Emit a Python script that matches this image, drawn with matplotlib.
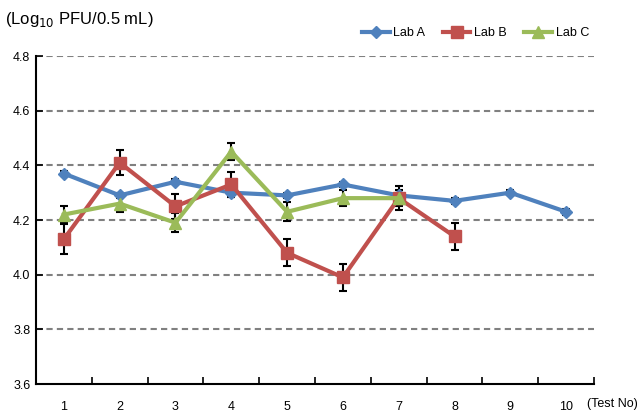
import numpy as np
import matplotlib.pyplot as plt
from matplotlib.ticker import FixedLocator

plt.rcParams['font.family'] = ['Liberation Sans', 'DejaVu Sans']

tests = [1, 2, 3, 4, 5, 6, 7, 8, 9, 10]

lab_a = [4.37, 4.29, 4.34, 4.30, 4.29, 4.33, 4.29, 4.27, 4.30, 4.23]
lab_a_err = [0.01, 0.01, 0.01, 0.015, 0.01, 0.01, 0.01, 0.01, 0.01, 0.01]

lab_b = [4.13, 4.41, 4.25, 4.33, 4.08, 3.99, 4.28, 4.14]
lab_b_err = [0.055, 0.045, 0.045, 0.045, 0.05, 0.05, 0.045, 0.05]

lab_c = [4.22, 4.26, 4.19, 4.45, 4.23, 4.28, 4.28]
lab_c_err = [0.03, 0.03, 0.035, 0.03, 0.035, 0.03, 0.03]

yticks = [3.6, 3.8, 4.0, 4.2, 4.4, 4.6, 4.8]

fig = plt.figure(figsize=(6.39, 4.13), dpi=100)
ax = fig.add_axes([0.0563, 0.0702, 0.8733, 0.7942])

for y in yticks[1:]:
    ax.axhline(y, color='#808080', lw=1.5, ls=(0, (3, 2)), zorder=1)

series = [
    ('Lab A', lab_a, lab_a_err, '#4F81BD', 'D', 6),
    ('Lab B', lab_b, lab_b_err, '#C0504D', 's', 8),
    ('Lab C', lab_c, lab_c_err, '#9BBB59', '^', 9),
]
for name, vals, errs, col, mk, ms in series:
    x = tests[:len(vals)]
    ax.errorbar(x, vals, yerr=errs, fmt='none', ecolor='black', elinewidth=1.5,
                capsize=3, capthick=1.5, zorder=2)
    ax.plot(x, vals, color=col, lw=3, marker=mk, markersize=ms,
            markeredgecolor=col, label=name, zorder=3)

ax.set_xlim(0.5, 10.5)
ax.set_ylim(3.6, 4.8)
ax.set_yticks(yticks)
ax.set_yticklabels(['%.1f' % v for v in yticks], fontsize=9)
ax.set_xticks(tests)
ax.set_xticklabels([str(t) for t in tests], fontsize=9)
ax.xaxis.set_minor_locator(FixedLocator(np.arange(0.5, 11, 1.0)))
ax.tick_params(axis='x', which='major', length=0, pad=12)
ax.tick_params(axis='x', which='minor', direction='in', length=5, width=1.2)
ax.tick_params(axis='y', direction='in', length=5, width=1.2, pad=4)

for s in ['top', 'right']:
    ax.spines[s].set_visible(False)
for s in ['left', 'bottom']:
    ax.spines[s].set_linewidth(1.5)

fig.text(0.008, 0.952, '(Log$_{10}$ PFU/0.5 mL)', fontsize=12, va='center', ha='left')
fig.text(0.998, 0.022, '(Test No)', fontsize=9, va='center', ha='right')

leg = ax.legend(loc='center right', bbox_to_anchor=(1.0, 1.07), ncol=3, frameon=False,
                fontsize=9, handlelength=2.2, columnspacing=1.4, handletextpad=0.3,
                borderaxespad=0.0)

fig.savefig('out.png', dpi=100)
